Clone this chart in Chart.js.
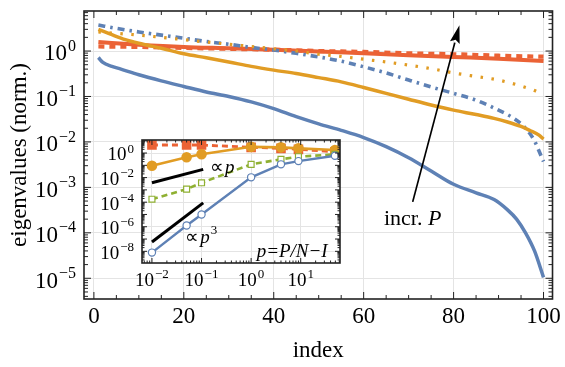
<!DOCTYPE html>
<html>
<head>
<title>Eigenvalues</title>
<style>
  body { margin: 0; background: #fff; }
  #wrap { position: relative; width: 565px; height: 367px; }
  #mainChart { position: absolute; left: 0; top: 0; }
  #insetChart { position: absolute; left: 90px; top: 128px; }
</style>
</head>
<body>
<div id="wrap">
  <canvas id="mainChart" width="565" height="367" style="width:565px;height:367px"></canvas>
  <canvas id="insetChart" width="260" height="165" style="width:260px;height:165px"></canvas>
</div>
<script src="https://cdn.jsdelivr.net/npm/chart.js@4"></script>
<script>
const FONT = '"Liberation Serif", "Times New Roman", serif';
const blue = '#5e81b5', orange = '#e19c24', green = '#8fb032', red = '#eb6235';

// main plot: eigenvalue spectra vs index
const blueSolidX = [1, 2, 4, 6, 10, 15, 20, 25, 30, 35, 40, 45, 50, 55, 60, 65, 70, 75, 80, 85, 89, 92, 94, 96, 98, 100];
const blueSolidY = [0.72, 0.56, 0.46, 0.40, 0.30, 0.22, 0.166, 0.126, 0.100, 0.076, 0.054, 0.036, 0.025, 0.018, 0.0125, 0.0079, 0.0045, 0.0023, 0.00117, 0.00076, 0.00054, 0.00032, 0.0002, 0.0001, 0.00004, 0.0000105];

const orangeSolidX = [1, 4, 7, 10, 15, 20, 25, 30, 35, 40, 45, 50, 55, 60, 65, 70, 75, 80, 85, 89, 92, 95, 97, 99, 100];
const orangeSolidY = [3.0, 2.29, 1.78, 1.48, 1.15, 0.87, 0.71, 0.575, 0.46, 0.38, 0.32, 0.26, 0.21, 0.158, 0.117, 0.087, 0.065, 0.050, 0.040, 0.033, 0.0275, 0.0219, 0.0178, 0.0141, 0.0115];

const orangeDotX = [1, 5, 10, 15, 20, 25, 30, 35, 40, 45, 50, 55, 60, 65, 70, 75, 80, 85, 90, 95, 98, 100];
const orangeDotY = [2.63, 2.45, 2.24, 2.0, 1.78, 1.58, 1.41, 1.26, 1.12, 1.0, 0.85, 0.76, 0.66, 0.575, 0.49, 0.41, 0.33, 0.275, 0.23, 0.17, 0.135, 0.107];

const blueDashDotX = [1, 5, 10, 15, 20, 25, 30, 35, 40, 45, 50, 55, 60, 65, 70, 75, 80, 85, 90, 93, 95, 97, 98, 99, 100];
const blueDashDotY = [3.72, 3.16, 2.63, 2.24, 1.91, 1.62, 1.41, 1.20, 1.05, 0.89, 0.74, 0.60, 0.45, 0.33, 0.23, 0.162, 0.117, 0.083, 0.050, 0.035, 0.025, 0.0151, 0.0105, 0.0063, 0.0037];

const redX = [1, 10, 20, 30, 40, 50, 60, 70, 80, 90, 100];
const redSolidY = [1.58, 1.38, 1.23, 1.15, 1.07, 0.98, 0.89, 0.81, 0.74, 0.68, 0.60];
const redDashY = [1.26, 1.23, 1.17, 1.12, 1.07, 1.0, 0.955, 0.89, 0.85, 0.79, 0.75];

const xTickVals = [0, 20, 40, 60, 80, 100];
const yExps = [0, -1, -2, -3, -4, -5];

// inset: smallest eigenvalue vs p = P/N - 1
const pVals = [0.01, 0.05, 0.1, 1, 4, 9, 49];
const insetRed = [4.5, 4.5, 4.5, 2.9, 2.4, 2.0, 1.26];
const insetOrange = [0.093, 0.45, 0.79, 3.2, 2.9, 2.4, 1.74];
const insetGreen = [1.74e-4, 1.15e-3, 3.8e-3, 0.12, 0.31, 0.5, 0.79];
const insetBlue = [7.9e-9, 1.26e-6, 1e-5, 0.0105, 0.12, 0.22, 0.60];
const guideX = [0.01, 0.108];
const guideP = [0.0038, 0.047];
const guideP3 = [5.8e-8, 8.7e-5];
const insetXExps = [-2, -1, 0, 1];
const insetYExps = [0, -2, -4, -6, -8];

function pts(xs, ys) { return xs.map((x, i) => ({ x: x, y: ys[i] })); }

function powLabel(ctx, x, y, exp, size, align) {
  const sup = exp < 0 ? '\u2212' + (-exp) : String(exp);
  const supSize = Math.round(size * 0.7);
  ctx.save();
  ctx.fillStyle = '#000';
  ctx.textBaseline = 'alphabetic';
  ctx.textAlign = 'left';
  ctx.font = size + 'px ' + FONT;
  const wb = ctx.measureText('10').width;
  ctx.font = supSize + 'px ' + FONT;
  const ws = ctx.measureText(sup).width;
  const total = wb + 1 + ws;
  const x0 = align === 'right' ? x - total : x - total / 2;
  const base = y + size * 0.34;
  ctx.font = size + 'px ' + FONT;
  ctx.fillText('10', x0, base);
  ctx.font = supSize + 'px ' + FONT;
  ctx.fillText(sup, x0 + wb + 1, base - size * 0.42);
  ctx.restore();
}

function logMinors(lo, hi) {
  const out = [];
  for (let e = Math.floor(Math.log10(lo)); e <= Math.ceil(Math.log10(hi)); e++) {
    for (let m = 1; m <= 9; m++) {
      const v = m * Math.pow(10, e);
      if (v >= lo && v <= hi) out.push({ v: v, major: m === 1 });
    }
  }
  return out;
}

// frame with inward ticks on all four sides
function drawFrame(chart, xt, yt, majLen, minLen, lw) {
  const ctx = chart.ctx, a = chart.chartArea;
  const sx = chart.scales.x, sy = chart.scales.y;
  ctx.save();
  ctx.strokeStyle = '#222';
  ctx.lineWidth = 1;
  ctx.beginPath();
  xt.forEach(t => {
    const px = sx.getPixelForValue(t.v);
    const l = t.major ? majLen : minLen;
    ctx.moveTo(px, a.bottom); ctx.lineTo(px, a.bottom - l);
    ctx.moveTo(px, a.top); ctx.lineTo(px, a.top + l);
  });
  yt.forEach(t => {
    const py = sy.getPixelForValue(t.v);
    const l = t.major ? majLen : minLen;
    ctx.moveTo(a.left, py); ctx.lineTo(a.left + l, py);
    ctx.moveTo(a.right, py); ctx.lineTo(a.right - l, py);
  });
  ctx.stroke();
  ctx.lineWidth = lw;
  ctx.strokeRect(a.left, a.top, a.right - a.left, a.bottom - a.top);
  ctx.restore();
}

const mainYMin = 3.5e-6, mainYMax = 7.6;

const mainDecor = {
  id: 'mainDecor',
  afterDraw(chart) {
    const ctx = chart.ctx, sx = chart.scales.x, sy = chart.scales.y;
    const xt = [];
    for (let v = 0; v <= 100; v += 5) xt.push({ v: v, major: v % 20 === 0 });
    drawFrame(chart, xt, logMinors(mainYMin, mainYMax), 7, 4, 1.6);
    yExps.forEach(e => {
      powLabel(ctx, chart.chartArea.left - 8, sy.getPixelForValue(Math.pow(10, e)) + 1.5, e, 23, 'right');
    });
    // arrow "incr. P"
    const x1 = sx.getPixelForValue(70.9), y1 = sy.getPixelForValue(4.8e-4);
    const x2 = sx.getPixelForValue(81.3), y2 = sy.getPixelForValue(3.7);
    const ang = Math.atan2(y2 - y1, x2 - x1);
    const hl = 18, hw = 5;
    const bx = x2 - hl * Math.cos(ang), by = y2 - hl * Math.sin(ang);
    ctx.save();
    ctx.strokeStyle = '#000'; ctx.fillStyle = '#000'; ctx.lineWidth = 1.7;
    ctx.beginPath(); ctx.moveTo(x1, y1); ctx.lineTo(bx, by); ctx.stroke();
    ctx.beginPath();
    ctx.moveTo(x2, y2);
    ctx.lineTo(bx + hw * Math.sin(ang), by - hw * Math.cos(ang));
    ctx.lineTo(bx + 3 * Math.cos(ang), by + 3 * Math.sin(ang));
    ctx.lineTo(bx - hw * Math.sin(ang), by + hw * Math.cos(ang));
    ctx.closePath(); ctx.fill();
    const ty = sy.getPixelForValue(1.5e-4);
    ctx.font = '22px ' + FONT;
    const w1 = ctx.measureText('incr. ').width;
    ctx.font = 'italic 22px ' + FONT;
    const w2 = ctx.measureText('P').width;
    const tx = x1 - (w1 + w2) / 2;
    ctx.textBaseline = 'alphabetic'; ctx.textAlign = 'left';
    ctx.font = '22px ' + FONT;
    ctx.fillText('incr. ', tx, ty);
    ctx.font = 'italic 22px ' + FONT;
    ctx.fillText('P', tx + w1, ty);
    ctx.restore();
  }
};

function lineDs(xs, ys, color, width, dash) {
  return {
    data: pts(xs, ys), showLine: true, borderColor: color, backgroundColor: color,
    borderWidth: width, borderDash: dash || [], pointRadius: 0,
    cubicInterpolationMode: 'monotone', borderCapStyle: 'butt'
  };
}

new Chart(document.getElementById('mainChart'), {
  type: 'scatter',
  data: {
    datasets: [
      lineDs(blueSolidX, blueSolidY, blue, 3.5),
      lineDs(orangeSolidX, orangeSolidY, orange, 3.5),
      lineDs(orangeDotX, orangeDotY, orange, 3.2, [2.5, 8.5]),
      lineDs(blueDashDotX, blueDashDotY, blue, 3.6, [7, 5, 2.5, 5]),
      lineDs(redX, redDashY, red, 4.2, [6, 5]),
      lineDs(redX, redSolidY, red, 4)
    ]
  },
  options: {
    responsive: false,
    animation: false,
    layout: { padding: { top: 11, right: 12, left: 0, bottom: 0 } },
    plugins: { legend: { display: false }, tooltip: { enabled: false } },
    scales: {
      x: {
        type: 'linear', min: -2.2, max: 102,
        afterBuildTicks: s => { s.ticks = xTickVals.map(v => ({ value: v })); },
        afterFit: s => { s.height = 68; },
        grid: { color: '#e4e4e4', drawTicks: false },
        border: { display: false },
        ticks: { font: { family: FONT, size: 23 }, color: '#000', padding: 4, maxRotation: 0, autoSkip: false },
        title: { display: true, text: 'index', font: { family: FONT, size: 23 }, color: '#000', padding: { top: 0, bottom: 2 } }
      },
      y: {
        type: 'logarithmic', min: mainYMin, max: mainYMax,
        afterBuildTicks: s => { s.ticks = yExps.map(e => ({ value: Math.pow(10, e) })); },
        afterFit: s => { s.width = 84; },
        grid: { color: '#e4e4e4', drawTicks: false },
        border: { display: false },
        ticks: { display: false },
        title: { display: true, text: 'eigenvalues (norm.)', font: { family: FONT, size: 23 }, color: '#000', padding: { top: 6, bottom: 0 } }
      }
    }
  },
  plugins: [mainDecor]
});

// inset
const insetYMin = 1.12e-9, insetYMax = 11.5, insetXMin = 0.0063, insetXMax = 62;

const insetDecor = {
  id: 'insetDecor',
  afterDraw(chart) {
    const ctx = chart.ctx, sx = chart.scales.x, sy = chart.scales.y, a = chart.chartArea;
    drawFrame(chart, logMinors(insetXMin, insetXMax), logMinors(insetYMin, insetYMax), 5, 2.5, 1.6);
    insetYExps.forEach(e => {
      powLabel(ctx, a.left - 8, sy.getPixelForValue(Math.pow(10, e)) + 1, e, 19, 'right');
    });
    insetXExps.forEach(e => {
      powLabel(ctx, sx.getPixelForValue(Math.pow(10, e)), a.bottom + 17, e, 19, 'center');
    });
    ctx.save();
    ctx.fillStyle = '#000';
    ctx.textBaseline = 'middle'; ctx.textAlign = 'left';
    // proportional to p
    let x = sx.getPixelForValue(0.148), y = sy.getPixelForValue(0.06);
    ctx.font = '19px ' + FONT;
    ctx.fillText('\u221D', x, y);
    let w = ctx.measureText('\u221D').width;
    ctx.font = 'italic 19px ' + FONT;
    ctx.fillText('p', x + w + 1, y);
    // proportional to p^3
    x = sx.getPixelForValue(0.047); y = sy.getPixelForValue(1.15e-7);
    ctx.font = '19px ' + FONT;
    ctx.fillText('\u221D', x, y);
    ctx.font = 'italic 19px ' + FONT;
    ctx.fillText('p', x + w + 1, y);
    const wp = ctx.measureText('p').width;
    ctx.font = '13px ' + FONT;
    ctx.fillText('3', x + w + wp + 2, y - 8);
    // p = P/N - 1
    ctx.font = 'italic 19px ' + FONT;
    ctx.textAlign = 'right';
    ctx.fillText('p=P/N\u2212I', sx.getPixelForValue(35), sy.getPixelForValue(8.7e-9));
    ctx.restore();
  }
};

new Chart(document.getElementById('insetChart'), {
  type: 'scatter',
  data: {
    datasets: [
      { data: pts(guideX, guideP), showLine: true, borderColor: '#000', borderWidth: 3, pointRadius: 0 },
      { data: pts(guideX, guideP3), showLine: true, borderColor: '#000', borderWidth: 3, pointRadius: 0 },
      { data: pts(pVals, insetBlue), showLine: true, borderColor: blue, borderWidth: 2.4,
        pointStyle: 'circle', pointRadius: 3.6, pointBorderWidth: 1.2, pointBackgroundColor: '#fff', pointBorderColor: blue },
      { data: pts(pVals, insetGreen), showLine: true, borderColor: green, borderWidth: 2.6, borderDash: [6, 4],
        pointStyle: 'rect', pointRadius: 4.2, pointBorderWidth: 1.2, pointBackgroundColor: '#fff', pointBorderColor: green },
      { data: pts(pVals, insetOrange), showLine: true, borderColor: orange, borderWidth: 2.6,
        pointStyle: 'circle', pointRadius: 4, pointBackgroundColor: orange, pointBorderColor: orange },
      { data: pts(pVals, insetRed), showLine: true, borderColor: red, borderWidth: 2.8, borderDash: [6, 4],
        pointStyle: 'rect', pointRadius: 4.8, pointBackgroundColor: red, pointBorderColor: red }
    ]
  },
  options: {
    responsive: false,
    animation: false,
    layout: { padding: { top: 12, right: 10, left: 0, bottom: 0 } },
    plugins: { legend: { display: false }, tooltip: { enabled: false } },
    scales: {
      x: {
        type: 'logarithmic', min: insetXMin, max: insetXMax,
        afterBuildTicks: s => { s.ticks = insetXExps.map(e => ({ value: Math.pow(10, e) })); },
        afterFit: s => { s.height = 30; },
        grid: { color: '#e4e4e4', drawTicks: false },
        border: { display: false },
        ticks: { display: false }
      },
      y: {
        type: 'logarithmic', min: insetYMin, max: insetYMax,
        afterBuildTicks: s => { s.ticks = insetYExps.map(e => ({ value: Math.pow(10, e) })); },
        afterFit: s => { s.width = 52; },
        grid: { color: '#e4e4e4', drawTicks: false },
        border: { display: false },
        ticks: { display: false }
      }
    }
  },
  plugins: [insetDecor]
});
</script>
</body>
</html>
